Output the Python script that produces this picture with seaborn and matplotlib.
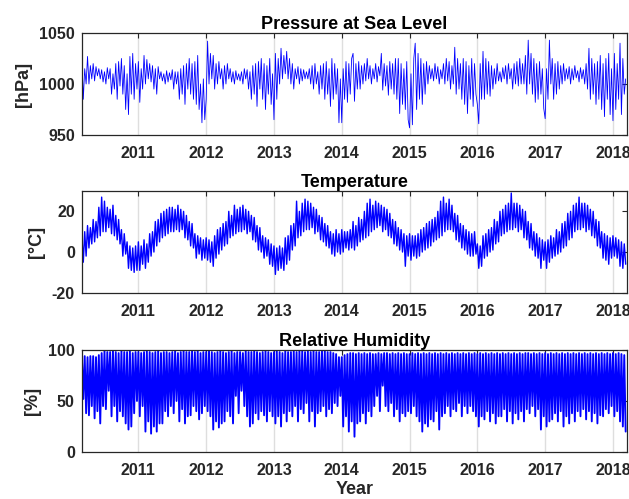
import numpy as np
import pandas as pd
import matplotlib
matplotlib.use("Agg")
import matplotlib.pyplot as plt
import seaborn as sns

# ---------------- data (4 samples per month, Mar 2010 - mid Mar 2018)
start_year = 2010 + 2 / 12
samples_per_year = 48

pressure = [
    # 2010 Mar-Dec
    1025, 985, 1015, 1000, 1027, 1000, 1018, 1005, 1020, 1003, 1017, 1008,
    1015, 1005, 1014, 1002, 1012, 1000, 1016, 1005, 1015, 990, 1010, 995,
    1020, 985, 1022, 998, 1025, 990, 1018, 975, 1010, 970, 1027, 990,
    1030, 985, 1020, 995,
    # 2011
    1022, 982, 1015, 995, 1028, 1000, 1024, 1005, 1020, 1002, 1018, 995,
    1015, 990, 1017, 1005, 1012, 1003, 1010, 1000, 1013, 1002, 1011, 1004,
    1014, 995, 1012, 1000, 1012, 985, 1015, 990, 1018, 980, 1020, 995,
    1025, 990, 1020, 985, 1022, 980, 1028, 975, 1000, 962, 1005, 965,
    # 2012
    985, 1042, 1000, 1030, 1005, 1028, 995, 1020, 1000, 1022, 1005, 1015,
    995, 1018, 1000, 1020, 1005, 1015, 1002, 1012, 1000, 1013, 1004, 1010,
    1003, 1012, 1000, 1015, 1005, 1014, 995, 1012, 985, 1018, 990, 1020,
    978, 1022, 995, 1025, 985, 1020, 975, 1018, 990, 1025, 980, 1010,
    # 2013
    965, 1030, 985, 1025, 1000, 1035, 1005, 1028, 1010, 1032, 1005, 1025,
    1000, 1020, 995, 1015, 1005, 1017, 1000, 1015, 1003, 1014, 1005, 1012,
    1005, 1015, 1000, 1018, 995, 1020, 1000, 1012, 990, 1018, 995, 1020,
    985, 1022, 990, 1015, 978, 1025, 985, 1020, 990, 1015, 962, 1005,
    # 2014
    962, 1015, 985, 1022, 982, 1020, 990, 1025, 1030, 983, 1020, 995,
    1022, 995, 1018, 1000, 1020, 1003, 1025, 1005, 1018, 1000, 1015, 1005,
    1020, 1002, 1017, 1008, 1030, 994, 1020, 998, 1018, 989, 1022, 995,
    1020, 990, 1025, 985, 1025, 971, 1020, 980, 1015, 975, 1022, 965,
    # 2015
    957, 1010, 960, 1025, 1040, 975, 1030, 985, 1025, 980, 1020, 990,
    1022, 1000, 1018, 1005, 1015, 1003, 1020, 1005, 1017, 1000, 1014, 1005,
    1020, 1000, 1025, 1003, 1022, 995, 1018, 1000, 1036, 990, 1025, 995,
    1020, 985, 1025, 980, 1022, 971, 1018, 985, 1025, 978, 1020, 990,
    # 2016
    980, 961, 1020, 985, 1032, 985, 1025, 990, 1022, 988, 1018, 995,
    1015, 1000, 1020, 1003, 1012, 1002, 1016, 1005, 1018, 1000, 1020, 1005,
    1015, 995, 1020, 1000, 1022, 998, 1025, 1000, 1020, 1000, 1028, 990,
    1043, 1000, 1030, 990, 1025, 982, 1020, 985, 1022, 990, 1015, 976,
    # 2017
    966, 1015, 985, 1043, 1000, 1025, 985, 1020, 990, 1022, 995, 1018,
    1000, 1020, 1003, 1015, 1005, 1017, 1000, 1015, 1004, 1018, 1006, 1013,
    1002, 1016, 1005, 1014, 1000, 1020, 995, 1035, 985, 1025, 990, 1020,
    980, 1022, 985, 1028, 975, 1020, 968, 1025, 985, 1030, 970, 1015,
    # 2018 Jan - mid Mar
    964, 1030, 975, 1020, 985, 1040, 970, 1025, 990, 1005,
]

temperature = [
    # 2010 Mar-Dec
    8, -5, 10, -2, 13, 2, 12, 4, 16, 5, 15, 7,
    22, 8, 27, 10, 25, 10, 22, 12, 21, 9, 23, 8,
    18, 6, 16, 4, 11, -2, 9, -1, 5, -8, 3, -9,
    2, -10, 3, -9,
    # 2011
    5, -9, 3, -6, 6, -8, 4, -5, 9, -2, 10, 0,
    15, 3, 16, 5, 19, 7, 20, 8, 21, 9, 22, 10,
    22, 10, 21, 11, 23, 10, 21, 11, 20, 7, 18, 6,
    15, 3, 14, 2, 9, -3, 8, -1, 7, -4, 6, -3,
    # 2012
    7, -4, 6, -5, 5, -7, 8, -3, 11, -1, 12, 1,
    14, 3, 15, 4, 20, 7, 18, 8, 23, 9, 21, 10,
    22, 10, 23, 11, 21, 9, 20, 10, 18, 6, 17, 5,
    13, 1, 12, 0, 8, -3, 7, -2, 6, -6, 4, -7,
    # 2013
    3, -11, 2, -9, 3, -8, 2, -9, 7, -6, 8, -4,
    13, 1, 14, 3, 25, 7, 20, 8, 24, 10, 26, 11,
    25, 11, 24, 12, 22, 9, 21, 10, 18, 6, 17, 5,
    14, 3, 13, 2, 10, -1, 9, -2, 11, 0, 9, -1,
    # 2014
    11, 0, 10, 2, 10, 1, 11, 2, 15, 1, 13, 3,
    17, 5, 16, 6, 20, 7, 24, 8, 26, 10, 23, 11,
    25, 12, 24, 13, 23, 10, 22, 11, 21, 8, 19, 7,
    16, 4, 15, 3, 12, 1, 11, 0, 9, -7, 8, -2,
    # 2015
    9, -4, 8, -2, 8, -3, 9, -2, 11, 0, 12, 1,
    14, 2, 15, 3, 16, 5, 17, 6, 20, 7, 25, 8,
    27, 10, 24, 11, 26, 11, 23, 10, 19, 6, 18, 5,
    14, 2, 13, 1, 11, -1, 10, -2, 9, -2, 10, -1,
    # 2016
    4, -8, 3, -7, 8, -3, 9, -2, 11, 0, 12, 1,
    16, 4, 15, 5, 20, 8, 21, 9, 23, 10, 24, 11,
    29, 11, 24, 12, 24, 10, 23, 11, 21, 7, 20, 6,
    15, 2, 14, 1, 10, -2, 9, -3, 7, -8, 6, -4,
    # 2017
    5, -8, 6, -5, 8, -3, 7, -2, 11, -1, 10, 0,
    14, 2, 15, 3, 19, 6, 20, 7, 23, 10, 24, 11,
    27, 11, 24, 12, 24, 10, 23, 11, 21, 8, 20, 7,
    16, 3, 15, 2, 10, -3, 9, -4, 8, -6, 7, -3,
    # 2018 Jan - mid Mar
    8, -2, 7, -3, 6, -7, 5, -8, 4, -6,
]

humidity = [
    # 2010 Mar-Dec
    93, 52, 94, 38, 93, 36, 94, 45, 94, 33, 93, 40,
    95, 28, 97, 45, 99, 42, 98, 60, 98, 35, 99, 45,
    98, 30, 97, 40, 99, 35, 98, 28, 98, 22, 99, 25,
    97, 38, 98, 50,
    # 2011
    98, 35, 97, 45, 98, 20, 99, 30, 98, 18, 97, 25,
    98, 20, 99, 28, 97, 28, 98, 40, 98, 35, 97, 45,
    98, 38, 99, 50, 97, 30, 98, 42, 99, 28, 98, 35,
    98, 36, 99, 45, 98, 40, 99, 32, 97, 38, 98, 45,
    # 2012
    98, 40, 99, 35, 98, 22, 97, 30, 98, 24, 99, 28,
    98, 30, 97, 40, 98, 35, 99, 28, 97, 55, 98, 38,
    98, 60, 97, 45, 99, 35, 98, 25, 98, 28, 99, 38,
    98, 32, 97, 40, 98, 36, 99, 30, 98, 40, 97, 35,
    # 2013
    98, 28, 99, 35, 98, 25, 97, 38, 99, 30, 98, 40,
    98, 35, 99, 45, 98, 30, 99, 42, 99, 38, 98, 48,
    99, 30, 98, 40, 99, 25, 98, 38, 98, 40, 99, 45,
    99, 35, 98, 42, 98, 38, 97, 48, 96, 45, 93, 55,
    # 2014
    93, 25, 95, 35, 96, 20, 97, 30, 97, 15, 96, 28,
    97, 30, 96, 38, 97, 28, 96, 40, 97, 35, 96, 45,
    96, 55, 97, 40, 96, 65, 97, 45, 97, 40, 96, 48,
    97, 35, 96, 42, 97, 30, 96, 38, 97, 35, 96, 40,
    # 2015
    96, 38, 97, 45, 96, 35, 97, 30, 96, 20, 97, 28,
    96, 25, 97, 32, 96, 30, 97, 40, 96, 22, 97, 35,
    96, 38, 97, 45, 96, 35, 97, 42, 96, 40, 97, 48,
    96, 35, 97, 45, 96, 38, 97, 45, 96, 40, 97, 35,
    # 2016
    96, 25, 97, 35, 96, 32, 97, 40, 96, 30, 97, 38,
    96, 28, 97, 35, 96, 35, 97, 42, 96, 30, 97, 40,
    96, 28, 97, 38, 96, 32, 97, 40, 96, 30, 97, 42,
    97, 38, 96, 45, 97, 35, 96, 42, 97, 22, 96, 35,
    # 2017
    97, 25, 96, 30, 97, 32, 96, 38, 97, 30, 96, 40,
    97, 25, 96, 35, 97, 28, 96, 38, 97, 30, 96, 40,
    97, 35, 96, 42, 97, 32, 96, 40, 97, 30, 96, 38,
    97, 28, 96, 36, 97, 35, 96, 42, 97, 38, 96, 45,
    # 2018 Jan - mid Mar
    97, 35, 96, 40, 97, 30, 96, 25, 95, 20,
]

year_ticks = [2011, 2012, 2013, 2014, 2015, 2016, 2017, 2018]
titles = ["Pressure at Sea Level", "Temperature", "Relative Humidity"]
ylabels = ["[hPa]", "[°C]", "[%]"]
ylims = [(950, 1050), (-20, 30), (0, 100)]
yticks = [[950, 1000, 1050], [-20, 0, 20], [0, 50, 100]]
x_limits = (2010.165, 2018.206)

n = len(pressure)
assert len(temperature) == n and len(humidity) == n, (len(pressure), len(temperature), len(humidity))
time = start_year + np.arange(n) / samples_per_year
df = pd.DataFrame({"year": time, "pressure": pressure,
                   "temperature": temperature, "humidity": humidity})

# ---------------- style
sns.set_theme(style="white")
plt.rcParams["font.family"] = ["Liberation Sans", "DejaVu Sans"]
plt.rcParams["font.weight"] = "bold"
plt.rcParams["axes.titleweight"] = "bold"
plt.rcParams["axes.labelweight"] = "bold"
plt.rcParams["axes.unicode_minus"] = False

dark = "#262626"
fig = plt.figure(figsize=(6.29, 4.99), dpi=100)
positions = [
    [0.1300, 0.7295, 0.8667, 0.2044],
    [0.1300, 0.4134, 0.8667, 0.2038],
    [0.1300, 0.0942, 0.8667, 0.2044],
]
cols = ["pressure", "temperature", "humidity"]
lws = [0.6, 1.0, 1.35]

for i, col in enumerate(cols):
    ax = fig.add_axes(positions[i])
    for yr in year_ticks:
        ax.axvline(yr, color="#dedede", lw=1.0, zorder=0)
    sns.lineplot(data=df, x="year", y=col, ax=ax, color="#0000ff",
                 lw=lws[i], estimator=None, sort=False, zorder=2)
    ax.set_xlim(*x_limits)
    ax.set_ylim(*ylims[i])
    ax.set_xticks(year_ticks)
    ax.set_xticklabels([str(y) for y in year_ticks])
    ax.set_yticks(yticks[i])
    ax.set_title(titles[i], fontsize=13, color="black", pad=3)
    ax.set_ylabel(ylabels[i], fontsize=13, color=dark, labelpad=5)
    ax.set_xlabel("Year" if i == 2 else "", fontsize=13, color=dark, labelpad=2)
    ax.tick_params(axis="both", direction="in", length=3.5, width=0.8,
                   top=True, right=True, colors=dark, labelsize=11.5)
    ax.tick_params(axis="x", pad=8)
    ax.tick_params(axis="y", pad=5)
    for s in ax.spines.values():
        s.set_color(dark)
        s.set_linewidth(0.9)
        s.set_visible(True)

fig.savefig("out.png", dpi=100)
